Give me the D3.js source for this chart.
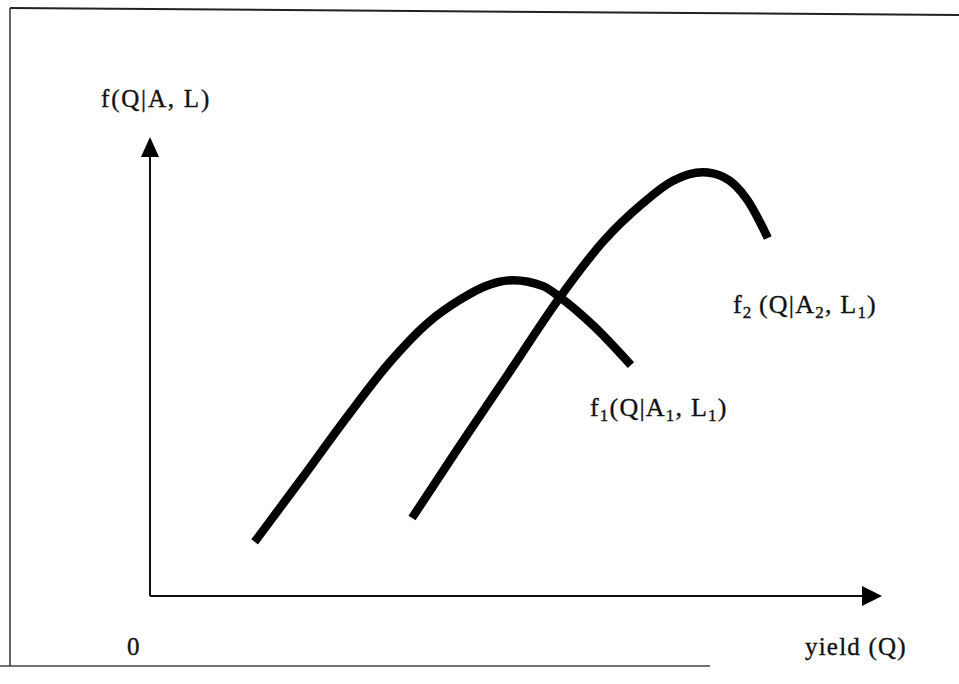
<!DOCTYPE html>
<html>
<head>
<meta charset="utf-8">
<script src="https://cdn.jsdelivr.net/npm/d3@7"></script>
<style>
  html, body { margin: 0; padding: 0; background: #fff; }
  svg { display: block; }
  text { font-family: "Liberation Serif", "DejaVu Serif", serif; fill: #111; stroke: #111; stroke-width: 0.35; }
</style>
</head>
<body>
<svg id="chart" width="959" height="684"></svg>
<script>
// ---- data (axis units 0..100) ----
const curve1X = [14.3, 20.6, 27.0, 32.8, 38.1, 42.3, 45.8, 49.6, 53.7, 56.0, 60.5, 65.7];
const curve1Y = [11.8, 25.3, 39.2, 51.0, 59.7, 64.5, 67.5, 68.8, 67.5, 65.1, 59.0, 50.3];
const curve2X = [35.8, 42.1, 48.9, 56.0, 62.0, 67.2, 71.4, 75.5, 78.3, 81.6, 84.4];
const curve2Y = [17.0, 32.2, 48.3, 65.1, 77.4, 85.4, 90.4, 92.3, 91.3, 86.3, 78.0];
const yAxisLabel = "f(Q|A, L)";
const xAxisLabel = "yield (Q)";
const originLabel = "0";

const svg = d3.select("#chart");
const x = d3.scaleLinear().domain([0, 100]).range([150, 882]);
const y = d3.scaleLinear().domain([0, 100]).range([596, 137]);

// ---- frame (scanned page border) ----
svg.append("path").attr("d", "M10,8 L959,15").attr("stroke", "#222").attr("stroke-width", 2).attr("fill", "none");
svg.append("line").attr("x1", 10).attr("y1", 8).attr("x2", 10).attr("y2", 666).attr("stroke", "#333").attr("stroke-width", 1.5);
svg.append("line").attr("x1", 0).attr("y1", 666).attr("x2", 710).attr("y2", 666).attr("stroke", "#444").attr("stroke-width", 1.5);

// ---- axes ----
const ax = svg.append("g");
ax.append("line").attr("x1", x(0)).attr("y1", y(0)).attr("x2", x(0)).attr("y2", y(100) + 18)
  .attr("stroke", "#111").attr("stroke-width", 2);
ax.append("line").attr("x1", x(0)).attr("y1", y(0)).attr("x2", x(100) - 18).attr("y2", y(0))
  .attr("stroke", "#111").attr("stroke-width", 2);
ax.append("path")
  .attr("d", `M${x(0)},${y(100)} L${x(0) - 9},${y(100) + 20} L${x(0) + 9},${y(100) + 20} Z`)
  .attr("fill", "#000");
ax.append("path")
  .attr("d", `M${x(100)},${y(0)} L${x(100) - 20},${y(0) - 10} L${x(100) - 20},${y(0) + 10} Z`)
  .attr("fill", "#000");

// ---- curves ----
const line = d3.line().x(d => x(d[0])).y(d => y(d[1])).curve(d3.curveMonotoneX);
const c1 = curve1X.map((v, i) => [v, curve1Y[i]]);
const c2 = curve2X.map((v, i) => [v, curve2Y[i]]);
[c1, c2].forEach(c => {
  svg.append("path").attr("d", line(c)).attr("fill", "none")
    .attr("stroke", "#000").attr("stroke-width", 8.5).attr("stroke-linecap", "butt");
});

// ---- labels ----
const fs = 25, sfs = 17;
svg.append("text").attr("x", 101).attr("y", 107).attr("font-size", fs).attr("letter-spacing", 1.8).text(yAxisLabel);
svg.append("text").attr("x", 127).attr("y", 655).attr("font-size", fs).text(originLabel);
svg.append("text").attr("x", 805).attr("y", 655).attr("font-size", fs).attr("letter-spacing", 1.2).text(xAxisLabel);

function subLabel(xp, yp, parts) {
  const t = svg.append("text").attr("x", xp).attr("y", yp).attr("font-size", 26).attr("letter-spacing", 1.2);
  parts.forEach(p => {
    if (p.sub) {
      t.append("tspan").attr("font-size", sfs).attr("dy", 5).text(p.t);
    } else {
      t.append("tspan").attr("dy", p.after ? -5 : 0).text(p.t);
    }
  });
}
subLabel(733, 313, [{t: "f"}, {t: "2", sub: true}, {t: "\u2009(Q|A", after: true}, {t: "2", sub: true}, {t: ", L", after: true}, {t: "1", sub: true}, {t: ")", after: true}]);
subLabel(590, 416, [{t: "f"}, {t: "1", sub: true}, {t: "(Q|A", after: true}, {t: "1", sub: true}, {t: ", L", after: true}, {t: "1", sub: true}, {t: ")", after: true}]);
</script>
</body>
</html>
